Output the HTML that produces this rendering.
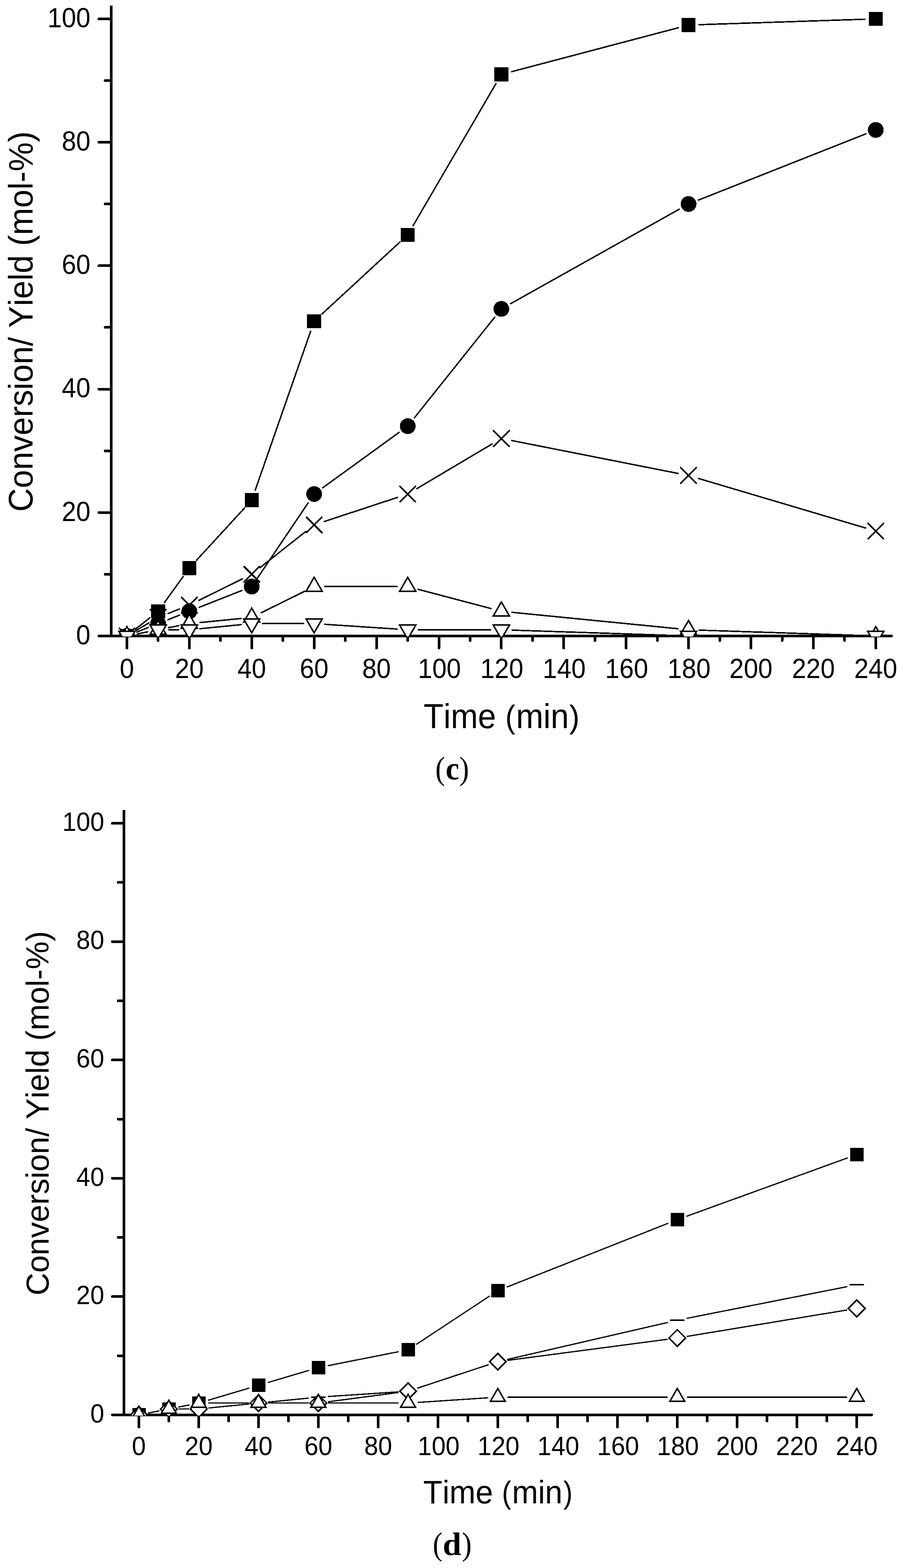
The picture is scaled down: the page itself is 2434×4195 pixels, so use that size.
<!DOCTYPE html>
<html><head><meta charset="utf-8"><title>Conversion / Yield vs Time</title>
<style>html,body{margin:0;padding:0;background:#fff;width:2434px;height:4195px;overflow:hidden}text{font-kerning:none}</style>
</head><body>
<svg width="2434" height="4195" viewBox="0 0 2434 4195" style="display:block" shape-rendering="crispEdges"><g stroke="#000" fill="none">
<line x1="297.5" y1="15" x2="297.5" y2="1701.4" stroke-width="7" stroke-linecap="butt"/>
<line x1="264.5" y1="1701.4" x2="2384.5" y2="1701.4" stroke-width="7" stroke-linecap="round"/>
<line x1="264.5" y1="1701.4" x2="297.5" y2="1701.4" stroke-width="7" stroke-linecap="round"/>
<line x1="264.5" y1="1371.22" x2="297.5" y2="1371.22" stroke-width="7" stroke-linecap="round"/>
<line x1="264.5" y1="1041.04" x2="297.5" y2="1041.04" stroke-width="7" stroke-linecap="round"/>
<line x1="264.5" y1="710.86" x2="297.5" y2="710.86" stroke-width="7" stroke-linecap="round"/>
<line x1="264.5" y1="380.68" x2="297.5" y2="380.68" stroke-width="7" stroke-linecap="round"/>
<line x1="264.5" y1="50.5" x2="297.5" y2="50.5" stroke-width="7" stroke-linecap="round"/>
<line x1="281" y1="1536.31" x2="297.5" y2="1536.31" stroke-width="7" stroke-linecap="round"/>
<line x1="281" y1="1206.13" x2="297.5" y2="1206.13" stroke-width="7" stroke-linecap="round"/>
<line x1="281" y1="875.95" x2="297.5" y2="875.95" stroke-width="7" stroke-linecap="round"/>
<line x1="281" y1="545.77" x2="297.5" y2="545.77" stroke-width="7" stroke-linecap="round"/>
<line x1="281" y1="215.59" x2="297.5" y2="215.59" stroke-width="7" stroke-linecap="round"/>
<line x1="339.5" y1="1701.4" x2="339.5" y2="1734" stroke-width="7" stroke-linecap="round"/>
<line x1="506.41" y1="1701.4" x2="506.41" y2="1734" stroke-width="7" stroke-linecap="round"/>
<line x1="673.32" y1="1701.4" x2="673.32" y2="1734" stroke-width="7" stroke-linecap="round"/>
<line x1="840.23" y1="1701.4" x2="840.23" y2="1734" stroke-width="7" stroke-linecap="round"/>
<line x1="1007.13" y1="1701.4" x2="1007.13" y2="1734" stroke-width="7" stroke-linecap="round"/>
<line x1="1174.04" y1="1701.4" x2="1174.04" y2="1734" stroke-width="7" stroke-linecap="round"/>
<line x1="1340.95" y1="1701.4" x2="1340.95" y2="1734" stroke-width="7" stroke-linecap="round"/>
<line x1="1507.86" y1="1701.4" x2="1507.86" y2="1734" stroke-width="7" stroke-linecap="round"/>
<line x1="1674.77" y1="1701.4" x2="1674.77" y2="1734" stroke-width="7" stroke-linecap="round"/>
<line x1="1841.67" y1="1701.4" x2="1841.67" y2="1734" stroke-width="7" stroke-linecap="round"/>
<line x1="2008.58" y1="1701.4" x2="2008.58" y2="1734" stroke-width="7" stroke-linecap="round"/>
<line x1="2175.49" y1="1701.4" x2="2175.49" y2="1734" stroke-width="7" stroke-linecap="round"/>
<line x1="2342.4" y1="1701.4" x2="2342.4" y2="1734" stroke-width="7" stroke-linecap="round"/>
<line x1="422.95" y1="1701.4" x2="422.95" y2="1714" stroke-width="7" stroke-linecap="round"/>
<line x1="589.86" y1="1701.4" x2="589.86" y2="1714" stroke-width="7" stroke-linecap="round"/>
<line x1="756.77" y1="1701.4" x2="756.77" y2="1714" stroke-width="7" stroke-linecap="round"/>
<line x1="923.68" y1="1701.4" x2="923.68" y2="1714" stroke-width="7" stroke-linecap="round"/>
<line x1="1090.59" y1="1701.4" x2="1090.59" y2="1714" stroke-width="7" stroke-linecap="round"/>
<line x1="1257.5" y1="1701.4" x2="1257.5" y2="1714" stroke-width="7" stroke-linecap="round"/>
<line x1="1424.4" y1="1701.4" x2="1424.4" y2="1714" stroke-width="7" stroke-linecap="round"/>
<line x1="1591.31" y1="1701.4" x2="1591.31" y2="1714" stroke-width="7" stroke-linecap="round"/>
<line x1="1758.22" y1="1701.4" x2="1758.22" y2="1714" stroke-width="7" stroke-linecap="round"/>
<line x1="1925.13" y1="1701.4" x2="1925.13" y2="1714" stroke-width="7" stroke-linecap="round"/>
<line x1="2092.04" y1="1701.4" x2="2092.04" y2="1714" stroke-width="7" stroke-linecap="round"/>
<line x1="2258.95" y1="1701.4" x2="2258.95" y2="1714" stroke-width="7" stroke-linecap="round"/>
</g>
<g fill="#000">
<text x="203.62" y="1723.8" font-size="73.4" font-family='"Liberation Sans", Arial, sans-serif' font-weight="normal" textLength="38.37" lengthAdjust="spacingAndGlyphs" >0</text>
<text x="165.25" y="1393.62" font-size="73.4" font-family='"Liberation Sans", Arial, sans-serif' font-weight="normal" textLength="76.74" lengthAdjust="spacingAndGlyphs" >20</text>
<text x="165.25" y="1063.44" font-size="73.4" font-family='"Liberation Sans", Arial, sans-serif' font-weight="normal" textLength="76.74" lengthAdjust="spacingAndGlyphs" >40</text>
<text x="165.25" y="733.26" font-size="73.4" font-family='"Liberation Sans", Arial, sans-serif' font-weight="normal" textLength="76.74" lengthAdjust="spacingAndGlyphs" >60</text>
<text x="165.25" y="403.08" font-size="73.4" font-family='"Liberation Sans", Arial, sans-serif' font-weight="normal" textLength="76.74" lengthAdjust="spacingAndGlyphs" >80</text>
<text x="126.88" y="72.9" font-size="73.4" font-family='"Liberation Sans", Arial, sans-serif' font-weight="normal" textLength="115.12" lengthAdjust="spacingAndGlyphs" >100</text>
<text x="320.31" y="1813.8" font-size="73.4" font-family='"Liberation Sans", Arial, sans-serif' font-weight="normal" textLength="38.37" lengthAdjust="spacingAndGlyphs" >0</text>
<text x="468.04" y="1813.8" font-size="73.4" font-family='"Liberation Sans", Arial, sans-serif' font-weight="normal" textLength="76.74" lengthAdjust="spacingAndGlyphs" >20</text>
<text x="634.94" y="1813.8" font-size="73.4" font-family='"Liberation Sans", Arial, sans-serif' font-weight="normal" textLength="76.74" lengthAdjust="spacingAndGlyphs" >40</text>
<text x="801.85" y="1813.8" font-size="73.4" font-family='"Liberation Sans", Arial, sans-serif' font-weight="normal" textLength="76.74" lengthAdjust="spacingAndGlyphs" >60</text>
<text x="968.76" y="1813.8" font-size="73.4" font-family='"Liberation Sans", Arial, sans-serif' font-weight="normal" textLength="76.74" lengthAdjust="spacingAndGlyphs" >80</text>
<text x="1117.78" y="1813.8" font-size="73.4" font-family='"Liberation Sans", Arial, sans-serif' font-weight="normal" textLength="115.12" lengthAdjust="spacingAndGlyphs" >100</text>
<text x="1284.69" y="1813.8" font-size="73.4" font-family='"Liberation Sans", Arial, sans-serif' font-weight="normal" textLength="115.12" lengthAdjust="spacingAndGlyphs" >120</text>
<text x="1451.6" y="1813.8" font-size="73.4" font-family='"Liberation Sans", Arial, sans-serif' font-weight="normal" textLength="115.12" lengthAdjust="spacingAndGlyphs" >140</text>
<text x="1618.51" y="1813.8" font-size="73.4" font-family='"Liberation Sans", Arial, sans-serif' font-weight="normal" textLength="115.12" lengthAdjust="spacingAndGlyphs" >160</text>
<text x="1785.42" y="1813.8" font-size="73.4" font-family='"Liberation Sans", Arial, sans-serif' font-weight="normal" textLength="115.12" lengthAdjust="spacingAndGlyphs" >180</text>
<text x="1951.02" y="1813.8" font-size="73.4" font-family='"Liberation Sans", Arial, sans-serif' font-weight="normal" textLength="115.12" lengthAdjust="spacingAndGlyphs" >200</text>
<text x="2117.93" y="1813.8" font-size="73.4" font-family='"Liberation Sans", Arial, sans-serif' font-weight="normal" textLength="115.12" lengthAdjust="spacingAndGlyphs" >220</text>
<text x="2284.84" y="1813.8" font-size="73.4" font-family='"Liberation Sans", Arial, sans-serif' font-weight="normal" textLength="115.12" lengthAdjust="spacingAndGlyphs" >240</text>
<text x="1133.04" y="1947.9" font-size="91.9" font-family='"Liberation Sans", Arial, sans-serif' font-weight="normal" textLength="193.84" lengthAdjust="spacingAndGlyphs" >Time</text>
<text x="1351.47" y="1946.9" font-size="85.9" font-family='"Liberation Sans", Arial, sans-serif' font-weight="normal" textLength="27" lengthAdjust="spacingAndGlyphs" >(</text>
<text x="1380.17" y="1947.9" font-size="91.9" font-family='"Liberation Sans", Arial, sans-serif' font-weight="normal" textLength="141.54" lengthAdjust="spacingAndGlyphs" >min</text>
<text x="1522.51" y="1946.9" font-size="85.9" font-family='"Liberation Sans", Arial, sans-serif' font-weight="normal" textLength="27.63" lengthAdjust="spacingAndGlyphs" >)</text>
<text transform="rotate(-90)" x="-1369.35" y="87.2" font-size="91.5" font-family='"Liberation Sans", Arial, sans-serif' textLength="1017.99" lengthAdjust="spacingAndGlyphs">Conversion/ Yield (mol-%)</text>
<text x="1164.5" y="2084.8" font-size="86" font-family='"Liberation Serif", "Times New Roman", serif' font-weight="normal" textLength="25.8" lengthAdjust="spacingAndGlyphs" >(</text>
<text x="1191.9" y="2084.8" font-size="87.5" font-family='"Liberation Serif", "Times New Roman", serif' font-weight="bold" textLength="36.34" lengthAdjust="spacingAndGlyphs" >c</text>
<text x="1228.59" y="2084.8" font-size="86" font-family='"Liberation Serif", "Times New Roman", serif' font-weight="normal" textLength="25.93" lengthAdjust="spacingAndGlyphs" >)</text>
</g>
<clipPath id="cc"><rect x="0" y="0" width="2434" height="1702.9"/></clipPath>
<g clip-path="url(#cc)">
<path d="M361.85 1683.72L400.6 1653.05M439.64 1612.26L489.72 1542.91M525.69 1498.82L654.03 1359.19M682.7 1311.29L830.84 886.35M861.17 840.11L1069.65 647.65M1104.95 603.7L1326.59 223.7M1368.51 191.81L1814.12 74.28M1870.16 66.07L2313.92 51.44" fill="none" stroke="#000" stroke-width="3.8" stroke-linecap="round"/>
<rect x="320.75" y="1682.65" width="37.5" height="37.5" fill="#000"/>
<rect x="404.2" y="1616.61" width="37.5" height="37.5" fill="#000"/>
<rect x="487.66" y="1501.05" width="37.5" height="37.5" fill="#000"/>
<rect x="654.57" y="1319.45" width="37.5" height="37.5" fill="#000"/>
<rect x="821.48" y="840.69" width="37.5" height="37.5" fill="#000"/>
<rect x="1071.84" y="609.57" width="37.5" height="37.5" fill="#000"/>
<rect x="1322.2" y="180.33" width="37.5" height="37.5" fill="#000"/>
<rect x="1822.92" y="48.26" width="37.5" height="37.5" fill="#000"/>
<rect x="2323.65" y="31.75" width="37.5" height="37.5" fill="#000"/>
<path d="M366 1690.91L396.45 1678.87M449.46 1657.9L479.91 1645.85M532.91 1624.88L646.82 1579.81M689.25 1545.69L824.3 1345.33M863.3 1304.96L1067.52 1156.83M1108.37 1117.82L1323.17 848.7M1365.81 812.49L1816.81 559.7M1868.18 535.28L2315.9 358.15" fill="none" stroke="#000" stroke-width="3.8" stroke-linecap="round"/>
<circle cx="339.5" cy="1701.4" r="21.1" fill="#000"/>
<circle cx="422.95" cy="1668.38" r="21.1" fill="#000"/>
<circle cx="506.41" cy="1635.36" r="21.1" fill="#000"/>
<circle cx="673.32" cy="1569.33" r="21.1" fill="#000"/>
<circle cx="840.23" cy="1321.69" r="21.1" fill="#000"/>
<circle cx="1090.59" cy="1140.09" r="21.1" fill="#000"/>
<circle cx="1340.95" cy="826.42" r="21.1" fill="#000"/>
<circle cx="1841.67" cy="545.77" r="21.1" fill="#000"/>
<circle cx="2342.4" cy="347.66" r="21.1" fill="#000"/>
<path d="M364.01 1686.85L398.45 1666.42M449.46 1641.39L479.91 1629.34M531.95 1606.22L647.77 1548.94M695.67 1518.63L817.88 1421.92M867.29 1395.31L1063.52 1330.62M1115.1 1307.15L1316.44 1187.66M1368.91 1178.64L1813.72 1266.64M1869 1280.27L2315.08 1412.64" fill="none" stroke="#000" stroke-width="3.8" stroke-linecap="round"/>
<path d="M316.8 1678.7L319.84 1678.7L362.2 1721.06L362.2 1724.1L359.16 1724.1L316.8 1681.74ZM362.2 1678.7L362.2 1681.74L319.84 1724.1L316.8 1724.1L316.8 1721.06L359.16 1678.7Z" fill="#000"/>
<path d="M400.25 1629.17L403.29 1629.17L445.65 1671.53L445.65 1674.57L442.61 1674.57L400.25 1632.21ZM445.65 1629.17L445.65 1632.21L403.29 1674.57L400.25 1674.57L400.25 1671.53L442.61 1629.17Z" fill="#000"/>
<path d="M483.71 1596.15L486.75 1596.15L529.11 1638.51L529.11 1641.56L526.07 1641.56L483.71 1599.2ZM529.11 1596.15L529.11 1599.2L486.75 1641.56L483.71 1641.56L483.71 1638.51L526.07 1596.15Z" fill="#000"/>
<path d="M650.62 1513.61L653.66 1513.61L696.02 1555.97L696.02 1559.01L692.98 1559.01L650.62 1516.65ZM696.02 1513.61L696.02 1516.65L653.66 1559.01L650.62 1559.01L650.62 1555.97L692.98 1513.61Z" fill="#000"/>
<path d="M817.52 1381.54L820.57 1381.54L862.93 1423.9L862.93 1426.94L859.88 1426.94L817.52 1384.58ZM862.93 1381.54L862.93 1384.58L820.57 1426.94L817.52 1426.94L817.52 1423.9L859.88 1381.54Z" fill="#000"/>
<path d="M1067.89 1298.99L1070.93 1298.99L1113.29 1341.35L1113.29 1344.39L1110.25 1344.39L1067.89 1302.03ZM1113.29 1298.99L1113.29 1302.03L1070.93 1344.39L1067.89 1344.39L1067.89 1341.35L1110.25 1298.99Z" fill="#000"/>
<path d="M1318.25 1150.41L1321.29 1150.41L1363.65 1192.77L1363.65 1195.81L1360.61 1195.81L1318.25 1153.45ZM1363.65 1150.41L1363.65 1153.45L1321.29 1195.81L1318.25 1195.81L1318.25 1192.77L1360.61 1150.41Z" fill="#000"/>
<path d="M1818.97 1249.47L1822.02 1249.47L1864.38 1291.83L1864.38 1294.87L1861.33 1294.87L1818.97 1252.51ZM1864.38 1249.47L1864.38 1252.51L1822.02 1294.87L1818.97 1294.87L1818.97 1291.83L1861.33 1249.47Z" fill="#000"/>
<path d="M2319.7 1398.05L2322.74 1398.05L2365.1 1440.41L2365.1 1443.45L2362.06 1443.45L2319.7 1401.09ZM2365.1 1398.05L2365.1 1401.09L2322.74 1443.45L2319.7 1443.45L2319.7 1440.41L2362.06 1398.05Z" fill="#000"/>
<path d="M367.46 1695.87L395 1690.42M450.91 1679.36L478.45 1673.91M534.77 1665.58L644.96 1654.68M698.86 1639.24L814.68 1581.96M868.73 1569.33L1062.09 1569.33M1118.15 1576.6L1313.39 1628.1M1369.31 1638.17L1813.31 1682.09M1870.16 1685.83L2313.92 1700.46" fill="none" stroke="#000" stroke-width="3.8" stroke-linecap="round"/>
<path d="M339.5 1676.6L318.02 1713.8L360.98 1713.8Z" fill="#fff" stroke="#000" stroke-width="4" stroke-linejoin="miter"/>
<path d="M422.95 1660.09L401.48 1697.29L444.43 1697.29Z" fill="#fff" stroke="#000" stroke-width="4" stroke-linejoin="miter"/>
<path d="M506.41 1643.58L484.93 1680.78L527.89 1680.78Z" fill="#fff" stroke="#000" stroke-width="4" stroke-linejoin="miter"/>
<path d="M673.32 1627.07L651.84 1664.27L694.79 1664.27Z" fill="#fff" stroke="#000" stroke-width="4" stroke-linejoin="miter"/>
<path d="M840.23 1544.53L818.75 1581.73L861.7 1581.73Z" fill="#fff" stroke="#000" stroke-width="4" stroke-linejoin="miter"/>
<path d="M1090.59 1544.53L1069.11 1581.73L1112.06 1581.73Z" fill="#fff" stroke="#000" stroke-width="4" stroke-linejoin="miter"/>
<path d="M1340.95 1610.56L1319.47 1647.76L1362.43 1647.76Z" fill="#fff" stroke="#000" stroke-width="4" stroke-linejoin="miter"/>
<path d="M1841.67 1660.09L1820.2 1697.29L1863.15 1697.29Z" fill="#fff" stroke="#000" stroke-width="4" stroke-linejoin="miter"/>
<path d="M2342.4 1676.6L2320.92 1713.8L2363.88 1713.8Z" fill="#fff" stroke="#000" stroke-width="4" stroke-linejoin="miter"/>
<path d="M367.46 1695.87L395 1690.42M451.45 1684.89L477.91 1684.89M534.77 1682.09L644.96 1671.19M701.82 1668.38L811.73 1668.38M868.66 1670.26L1062.15 1683.02M1119.09 1684.89L1312.45 1684.89M1369.43 1685.83L1813.19 1700.46M1870.17 1701.4L2313.9 1701.4" fill="none" stroke="#000" stroke-width="3.8" stroke-linecap="round"/>
<path d="M339.5 1726.2L318.02 1689L360.98 1689Z" fill="#fff" stroke="#000" stroke-width="4" stroke-linejoin="miter"/>
<path d="M422.95 1709.69L401.48 1672.49L444.43 1672.49Z" fill="#fff" stroke="#000" stroke-width="4" stroke-linejoin="miter"/>
<path d="M506.41 1709.69L484.93 1672.49L527.89 1672.49Z" fill="#fff" stroke="#000" stroke-width="4" stroke-linejoin="miter"/>
<path d="M673.32 1693.18L651.84 1655.98L694.79 1655.98Z" fill="#fff" stroke="#000" stroke-width="4" stroke-linejoin="miter"/>
<path d="M840.23 1693.18L818.75 1655.98L861.7 1655.98Z" fill="#fff" stroke="#000" stroke-width="4" stroke-linejoin="miter"/>
<path d="M1090.59 1709.69L1069.11 1672.49L1112.06 1672.49Z" fill="#fff" stroke="#000" stroke-width="4" stroke-linejoin="miter"/>
<path d="M1340.95 1709.69L1319.47 1672.49L1362.43 1672.49Z" fill="#fff" stroke="#000" stroke-width="4" stroke-linejoin="miter"/>
<path d="M1841.67 1726.2L1820.2 1689L1863.15 1689Z" fill="#fff" stroke="#000" stroke-width="4" stroke-linejoin="miter"/>
<path d="M2342.4 1726.2L2320.92 1689L2363.88 1689Z" fill="#fff" stroke="#000" stroke-width="4" stroke-linejoin="miter"/>
</g>
<g stroke="#000" fill="none">
<line x1="331.5" y1="2167" x2="331.5" y2="3785.4" stroke-width="7" stroke-linecap="butt"/>
<line x1="300.5" y1="3785.4" x2="2331.5" y2="3785.4" stroke-width="7" stroke-linecap="round"/>
<line x1="300.5" y1="3785.4" x2="331.5" y2="3785.4" stroke-width="7" stroke-linecap="round"/>
<line x1="300.5" y1="3468.84" x2="331.5" y2="3468.84" stroke-width="7" stroke-linecap="round"/>
<line x1="300.5" y1="3152.28" x2="331.5" y2="3152.28" stroke-width="7" stroke-linecap="round"/>
<line x1="300.5" y1="2835.72" x2="331.5" y2="2835.72" stroke-width="7" stroke-linecap="round"/>
<line x1="300.5" y1="2519.16" x2="331.5" y2="2519.16" stroke-width="7" stroke-linecap="round"/>
<line x1="300.5" y1="2202.6" x2="331.5" y2="2202.6" stroke-width="7" stroke-linecap="round"/>
<line x1="316" y1="3627.12" x2="331.5" y2="3627.12" stroke-width="7" stroke-linecap="round"/>
<line x1="316" y1="3310.56" x2="331.5" y2="3310.56" stroke-width="7" stroke-linecap="round"/>
<line x1="316" y1="2994" x2="331.5" y2="2994" stroke-width="7" stroke-linecap="round"/>
<line x1="316" y1="2677.44" x2="331.5" y2="2677.44" stroke-width="7" stroke-linecap="round"/>
<line x1="316" y1="2360.88" x2="331.5" y2="2360.88" stroke-width="7" stroke-linecap="round"/>
<line x1="371.5" y1="3785.4" x2="371.5" y2="3817.5" stroke-width="7" stroke-linecap="round"/>
<line x1="531.5" y1="3785.4" x2="531.5" y2="3817.5" stroke-width="7" stroke-linecap="round"/>
<line x1="691.5" y1="3785.4" x2="691.5" y2="3817.5" stroke-width="7" stroke-linecap="round"/>
<line x1="851.5" y1="3785.4" x2="851.5" y2="3817.5" stroke-width="7" stroke-linecap="round"/>
<line x1="1011.5" y1="3785.4" x2="1011.5" y2="3817.5" stroke-width="7" stroke-linecap="round"/>
<line x1="1171.5" y1="3785.4" x2="1171.5" y2="3817.5" stroke-width="7" stroke-linecap="round"/>
<line x1="1331.5" y1="3785.4" x2="1331.5" y2="3817.5" stroke-width="7" stroke-linecap="round"/>
<line x1="1491.5" y1="3785.4" x2="1491.5" y2="3817.5" stroke-width="7" stroke-linecap="round"/>
<line x1="1651.5" y1="3785.4" x2="1651.5" y2="3817.5" stroke-width="7" stroke-linecap="round"/>
<line x1="1811.5" y1="3785.4" x2="1811.5" y2="3817.5" stroke-width="7" stroke-linecap="round"/>
<line x1="1971.5" y1="3785.4" x2="1971.5" y2="3817.5" stroke-width="7" stroke-linecap="round"/>
<line x1="2131.5" y1="3785.4" x2="2131.5" y2="3817.5" stroke-width="7" stroke-linecap="round"/>
<line x1="2291.5" y1="3785.4" x2="2291.5" y2="3817.5" stroke-width="7" stroke-linecap="round"/>
<line x1="451.5" y1="3785.4" x2="451.5" y2="3802" stroke-width="7" stroke-linecap="round"/>
<line x1="611.5" y1="3785.4" x2="611.5" y2="3802" stroke-width="7" stroke-linecap="round"/>
<line x1="771.5" y1="3785.4" x2="771.5" y2="3802" stroke-width="7" stroke-linecap="round"/>
<line x1="931.5" y1="3785.4" x2="931.5" y2="3802" stroke-width="7" stroke-linecap="round"/>
<line x1="1091.5" y1="3785.4" x2="1091.5" y2="3802" stroke-width="7" stroke-linecap="round"/>
<line x1="1251.5" y1="3785.4" x2="1251.5" y2="3802" stroke-width="7" stroke-linecap="round"/>
<line x1="1411.5" y1="3785.4" x2="1411.5" y2="3802" stroke-width="7" stroke-linecap="round"/>
<line x1="1571.5" y1="3785.4" x2="1571.5" y2="3802" stroke-width="7" stroke-linecap="round"/>
<line x1="1731.5" y1="3785.4" x2="1731.5" y2="3802" stroke-width="7" stroke-linecap="round"/>
<line x1="1891.5" y1="3785.4" x2="1891.5" y2="3802" stroke-width="7" stroke-linecap="round"/>
<line x1="2051.5" y1="3785.4" x2="2051.5" y2="3802" stroke-width="7" stroke-linecap="round"/>
<line x1="2211.5" y1="3785.4" x2="2211.5" y2="3802" stroke-width="7" stroke-linecap="round"/>
</g>
<g fill="#000">
<text x="241.42" y="3805.7" font-size="70.6" font-family='"Liberation Sans", Arial, sans-serif' font-weight="normal" textLength="37.3" lengthAdjust="spacingAndGlyphs" >0</text>
<text x="204.12" y="3489.14" font-size="70.6" font-family='"Liberation Sans", Arial, sans-serif' font-weight="normal" textLength="74.6" lengthAdjust="spacingAndGlyphs" >20</text>
<text x="204.12" y="3172.58" font-size="70.6" font-family='"Liberation Sans", Arial, sans-serif' font-weight="normal" textLength="74.6" lengthAdjust="spacingAndGlyphs" >40</text>
<text x="204.12" y="2856.02" font-size="70.6" font-family='"Liberation Sans", Arial, sans-serif' font-weight="normal" textLength="74.6" lengthAdjust="spacingAndGlyphs" >60</text>
<text x="204.12" y="2539.46" font-size="70.6" font-family='"Liberation Sans", Arial, sans-serif' font-weight="normal" textLength="74.6" lengthAdjust="spacingAndGlyphs" >80</text>
<text x="166.82" y="2222.9" font-size="70.6" font-family='"Liberation Sans", Arial, sans-serif' font-weight="normal" textLength="111.9" lengthAdjust="spacingAndGlyphs" >100</text>
<text x="352.85" y="3893" font-size="70.6" font-family='"Liberation Sans", Arial, sans-serif' font-weight="normal" textLength="37.3" lengthAdjust="spacingAndGlyphs" >0</text>
<text x="494.2" y="3893" font-size="70.6" font-family='"Liberation Sans", Arial, sans-serif' font-weight="normal" textLength="74.6" lengthAdjust="spacingAndGlyphs" >20</text>
<text x="654.2" y="3893" font-size="70.6" font-family='"Liberation Sans", Arial, sans-serif' font-weight="normal" textLength="74.6" lengthAdjust="spacingAndGlyphs" >40</text>
<text x="814.2" y="3893" font-size="70.6" font-family='"Liberation Sans", Arial, sans-serif' font-weight="normal" textLength="74.6" lengthAdjust="spacingAndGlyphs" >60</text>
<text x="974.2" y="3893" font-size="70.6" font-family='"Liberation Sans", Arial, sans-serif' font-weight="normal" textLength="74.6" lengthAdjust="spacingAndGlyphs" >80</text>
<text x="1117.35" y="3893" font-size="70.6" font-family='"Liberation Sans", Arial, sans-serif' font-weight="normal" textLength="111.9" lengthAdjust="spacingAndGlyphs" >100</text>
<text x="1277.35" y="3893" font-size="70.6" font-family='"Liberation Sans", Arial, sans-serif' font-weight="normal" textLength="111.9" lengthAdjust="spacingAndGlyphs" >120</text>
<text x="1437.35" y="3893" font-size="70.6" font-family='"Liberation Sans", Arial, sans-serif' font-weight="normal" textLength="111.9" lengthAdjust="spacingAndGlyphs" >140</text>
<text x="1597.35" y="3893" font-size="70.6" font-family='"Liberation Sans", Arial, sans-serif' font-weight="normal" textLength="111.9" lengthAdjust="spacingAndGlyphs" >160</text>
<text x="1757.35" y="3893" font-size="70.6" font-family='"Liberation Sans", Arial, sans-serif' font-weight="normal" textLength="111.9" lengthAdjust="spacingAndGlyphs" >180</text>
<text x="1915.55" y="3893" font-size="70.6" font-family='"Liberation Sans", Arial, sans-serif' font-weight="normal" textLength="111.9" lengthAdjust="spacingAndGlyphs" >200</text>
<text x="2075.55" y="3893" font-size="70.6" font-family='"Liberation Sans", Arial, sans-serif' font-weight="normal" textLength="111.9" lengthAdjust="spacingAndGlyphs" >220</text>
<text x="2235.55" y="3893" font-size="70.6" font-family='"Liberation Sans", Arial, sans-serif' font-weight="normal" textLength="111.9" lengthAdjust="spacingAndGlyphs" >240</text>
<text x="1132.11" y="4021.9" font-size="86.2" font-family='"Liberation Sans", Arial, sans-serif' font-weight="normal" textLength="186.62" lengthAdjust="spacingAndGlyphs" >Time</text>
<text x="1342.57" y="4021.6" font-size="82.7" font-family='"Liberation Sans", Arial, sans-serif' font-weight="normal" textLength="24.87" lengthAdjust="spacingAndGlyphs" >(</text>
<text x="1369.44" y="4021.9" font-size="86.2" font-family='"Liberation Sans", Arial, sans-serif' font-weight="normal" textLength="135" lengthAdjust="spacingAndGlyphs" >min</text>
<text x="1507.07" y="4021.6" font-size="82.7" font-family='"Liberation Sans", Arial, sans-serif' font-weight="normal" textLength="24.49" lengthAdjust="spacingAndGlyphs" >)</text>
<text transform="rotate(-90)" x="-3465.76" y="130" font-size="86" font-family='"Liberation Sans", Arial, sans-serif' textLength="975.07" lengthAdjust="spacingAndGlyphs">Conversion/ Yield (mol-%)</text>
<text x="1157.46" y="4160" font-size="86" font-family='"Liberation Serif", "Times New Roman", serif' font-weight="normal" textLength="26.06" lengthAdjust="spacingAndGlyphs" >(</text>
<text x="1184.28" y="4160" font-size="87.5" font-family='"Liberation Serif", "Times New Roman", serif' font-weight="bold" textLength="49.62" lengthAdjust="spacingAndGlyphs" >d</text>
<text x="1235.38" y="4160" font-size="86" font-family='"Liberation Serif", "Times New Roman", serif' font-weight="normal" textLength="26.06" lengthAdjust="spacingAndGlyphs" >)</text>
</g>
<clipPath id="cd"><rect x="0" y="0" width="2434" height="3787.2"/></clipPath>
<g clip-path="url(#cd)">
<path d="M397.99 3780.16L425.01 3774.81M477.99 3764.33L505.01 3758.98M557.38 3746.06L665.62 3713.94M717.38 3698.58L825.62 3666.46M877.99 3653.54L1065.01 3616.53M1114.04 3596.43L1308.96 3467.88M1356.61 3443.08L1786.39 3273.01M1836.88 3253.87L2266.12 3098.17" fill="none" stroke="#000" stroke-width="3.3" stroke-linecap="round"/>
<rect x="353.5" y="3767.4" width="36" height="36" fill="#000"/>
<rect x="433.5" y="3751.57" width="36" height="36" fill="#000"/>
<rect x="513.5" y="3735.74" width="36" height="36" fill="#000"/>
<rect x="673.5" y="3688.26" width="36" height="36" fill="#000"/>
<rect x="833.5" y="3640.78" width="36" height="36" fill="#000"/>
<rect x="1073.5" y="3593.29" width="36" height="36" fill="#000"/>
<rect x="1313.5" y="3435.01" width="36" height="36" fill="#000"/>
<rect x="1793.5" y="3245.08" width="36" height="36" fill="#000"/>
<rect x="2273.5" y="3070.97" width="36" height="36" fill="#000"/>
<path d="M397.99 3780.16L425.01 3774.81M478.5 3769.57L504.5 3769.57M558.37 3766.91L664.63 3756.4M718.37 3751.09L824.63 3740.57M878.44 3736.14L1064.56 3723.86M1117.14 3713.63L1305.86 3651.4M1357.81 3636.88L1785.19 3538.22M1837.99 3526.91L2265.01 3442.42" fill="none" stroke="#000" stroke-width="3.3" stroke-linecap="round"/>
<line x1="354" y1="3785.4" x2="389" y2="3785.4" stroke="#000" stroke-width="4" stroke-linecap="round"/>
<line x1="434" y1="3769.57" x2="469" y2="3769.57" stroke="#000" stroke-width="4" stroke-linecap="round"/>
<line x1="514" y1="3769.57" x2="549" y2="3769.57" stroke="#000" stroke-width="4" stroke-linecap="round"/>
<line x1="674" y1="3753.74" x2="709" y2="3753.74" stroke="#000" stroke-width="4" stroke-linecap="round"/>
<line x1="834" y1="3737.92" x2="869" y2="3737.92" stroke="#000" stroke-width="4" stroke-linecap="round"/>
<line x1="1074" y1="3722.09" x2="1109" y2="3722.09" stroke="#000" stroke-width="4" stroke-linecap="round"/>
<line x1="1314" y1="3642.95" x2="1349" y2="3642.95" stroke="#000" stroke-width="4" stroke-linecap="round"/>
<line x1="1794" y1="3532.15" x2="1829" y2="3532.15" stroke="#000" stroke-width="4" stroke-linecap="round"/>
<line x1="2274" y1="3437.18" x2="2309" y2="3437.18" stroke="#000" stroke-width="4" stroke-linecap="round"/>
<path d="M397.99 3780.16L425.01 3774.81M478.5 3769.57L504.5 3769.57M558.37 3766.91L664.63 3756.4M718.5 3753.74L824.5 3753.74M878.27 3750.21L1064.73 3725.62M1117.14 3713.63L1305.86 3651.4M1358.27 3639.42L1784.73 3583.17M1838.14 3575.24L2264.86 3504.89" fill="none" stroke="#000" stroke-width="3.3" stroke-linecap="round"/>
<path d="M371.5 3763.2L393.7 3785.4L371.5 3807.6L349.3 3785.4Z" fill="#fff" stroke="#000" stroke-width="4" stroke-linejoin="miter"/>
<path d="M451.5 3747.37L473.7 3769.57L451.5 3791.77L429.3 3769.57Z" fill="#fff" stroke="#000" stroke-width="4" stroke-linejoin="miter"/>
<path d="M531.5 3747.37L553.7 3769.57L531.5 3791.77L509.3 3769.57Z" fill="#fff" stroke="#000" stroke-width="4" stroke-linejoin="miter"/>
<path d="M691.5 3731.54L713.7 3753.74L691.5 3775.94L669.3 3753.74Z" fill="#fff" stroke="#000" stroke-width="4" stroke-linejoin="miter"/>
<path d="M851.5 3731.54L873.7 3753.74L851.5 3775.94L829.3 3753.74Z" fill="#fff" stroke="#000" stroke-width="4" stroke-linejoin="miter"/>
<path d="M1091.5 3699.89L1113.7 3722.09L1091.5 3744.29L1069.3 3722.09Z" fill="#fff" stroke="#000" stroke-width="4" stroke-linejoin="miter"/>
<path d="M1331.5 3620.75L1353.7 3642.95L1331.5 3665.15L1309.3 3642.95Z" fill="#fff" stroke="#000" stroke-width="4" stroke-linejoin="miter"/>
<path d="M1811.5 3557.44L1833.7 3579.64L1811.5 3601.84L1789.3 3579.64Z" fill="#fff" stroke="#000" stroke-width="4" stroke-linejoin="miter"/>
<path d="M2291.5 3478.3L2313.7 3500.5L2291.5 3522.7L2269.3 3500.5Z" fill="#fff" stroke="#000" stroke-width="4" stroke-linejoin="miter"/>
<path d="M397.99 3780.16L425.01 3774.81M477.99 3764.33L505.01 3758.98M558.5 3753.74L664.5 3753.74M718.5 3753.74L824.5 3753.74M878.5 3753.74L1064.5 3753.74M1118.44 3751.97L1304.56 3739.69M1358.5 3737.92L1784.5 3737.92M1838.5 3737.92L2264.5 3737.92" fill="none" stroke="#000" stroke-width="3.3" stroke-linecap="round"/>
<path d="M371.5 3762.3L351.49 3796.95L391.51 3796.95Z" fill="#fff" stroke="#000" stroke-width="4" stroke-linejoin="miter"/>
<path d="M451.5 3746.47L431.49 3781.12L471.51 3781.12Z" fill="#fff" stroke="#000" stroke-width="4" stroke-linejoin="miter"/>
<path d="M531.5 3730.64L511.49 3765.29L551.51 3765.29Z" fill="#fff" stroke="#000" stroke-width="4" stroke-linejoin="miter"/>
<path d="M691.5 3730.64L671.49 3765.29L711.51 3765.29Z" fill="#fff" stroke="#000" stroke-width="4" stroke-linejoin="miter"/>
<path d="M851.5 3730.64L831.49 3765.29L871.51 3765.29Z" fill="#fff" stroke="#000" stroke-width="4" stroke-linejoin="miter"/>
<path d="M1091.5 3730.64L1071.49 3765.29L1111.51 3765.29Z" fill="#fff" stroke="#000" stroke-width="4" stroke-linejoin="miter"/>
<path d="M1331.5 3714.82L1311.49 3749.47L1351.51 3749.47Z" fill="#fff" stroke="#000" stroke-width="4" stroke-linejoin="miter"/>
<path d="M1811.5 3714.82L1791.49 3749.47L1831.51 3749.47Z" fill="#fff" stroke="#000" stroke-width="4" stroke-linejoin="miter"/>
<path d="M2291.5 3714.82L2271.49 3749.47L2311.51 3749.47Z" fill="#fff" stroke="#000" stroke-width="4" stroke-linejoin="miter"/>
</g></svg>
</body></html>
